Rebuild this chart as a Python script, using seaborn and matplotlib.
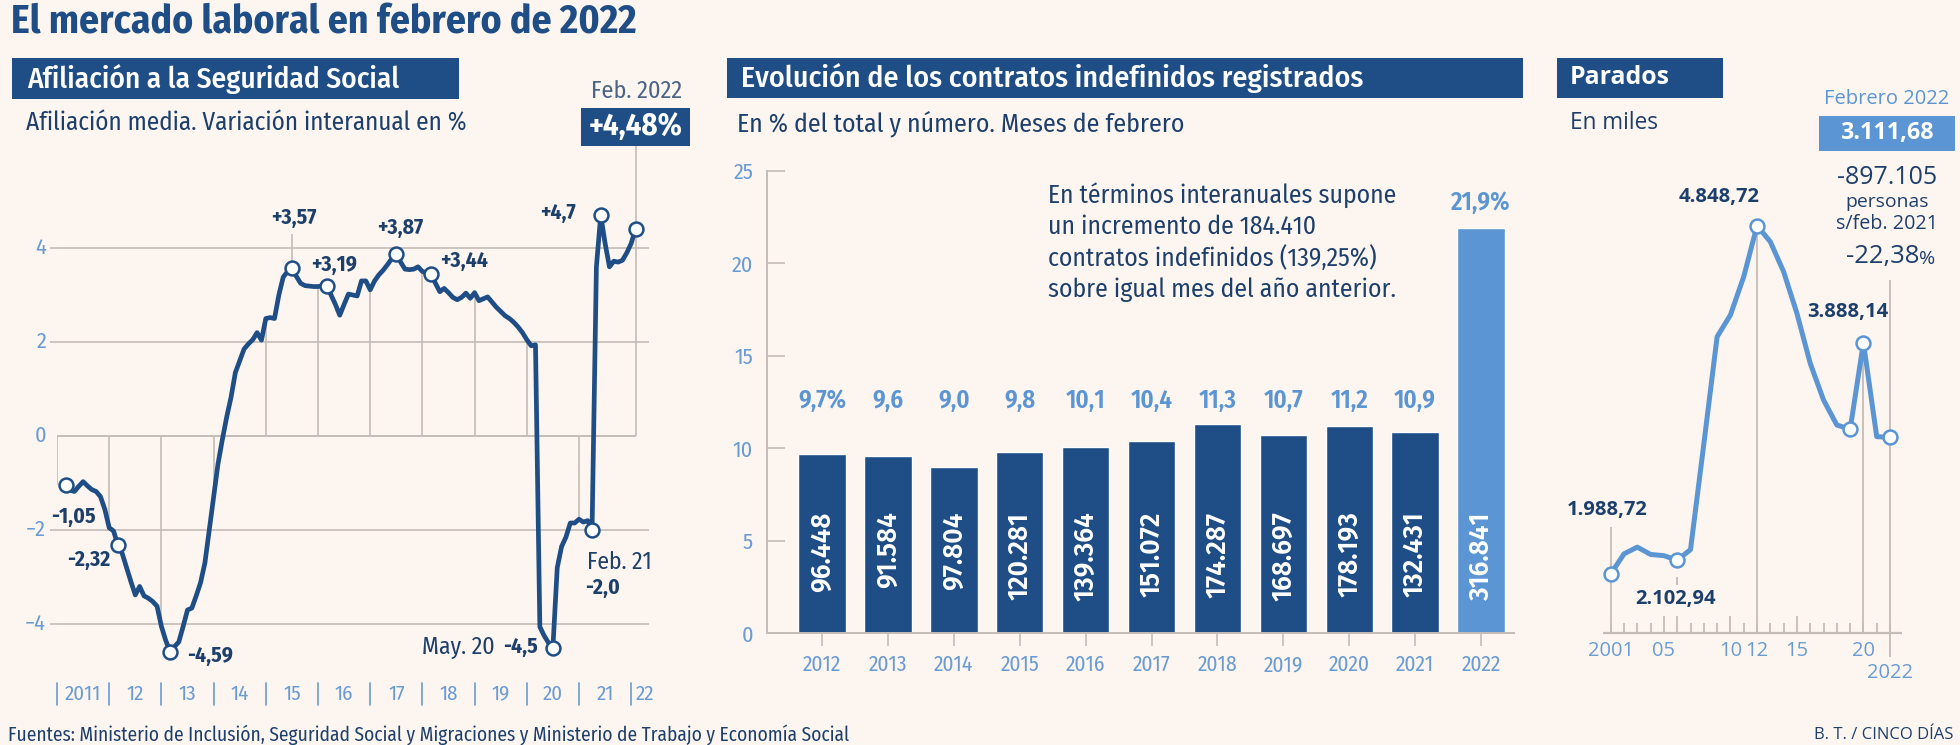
import matplotlib
matplotlib.use("Agg")
import matplotlib.pyplot as plt
from matplotlib.patches import Rectangle
from matplotlib.transforms import blended_transform_factory
import numpy as np
import seaborn as sns

W, H = 1960, 745

# colours
BG = "#fdf6f0"
DARK = "#1f4e87"
LIGHT = "#5b95d3"
TICKC = "#6a9bd3"
GRID = "#c6bcb6"
TXT = "#1d3f6c"

COND = "Fira Sans Condensed"
WIDE = "Open Sans"

# ---- Afiliación: variación interanual (%), mensual desde marzo 2011 hasta febrero 2022
afil_first_year = 2011
afil_first_month = 3
afil_values = [
    -1.05, -1.15, -1.18, -1.07, -0.97, -1.06, -1.14, -1.18, -1.29, -1.56,
    -1.95, -2.02, -2.32, -2.50, -2.80, -3.10, -3.38, -3.20, -3.40, -3.45,
    -3.52, -3.62, -4.05, -4.35, -4.59, -4.48, -4.38, -4.05, -3.70, -3.66,
    -3.40, -3.12, -2.70, -2.00, -1.30, -0.60, -0.08, 0.40, 0.82, 1.35,
    1.60, 1.85, 1.96, 2.05, 2.20, 2.04, 2.50, 2.52, 2.50, 3.00,
    3.38, 3.50, 3.57, 3.40, 3.25, 3.20, 3.19, 3.18, 3.18, 3.20,
    3.19, 3.00, 2.80, 2.57, 2.80, 3.02, 3.00, 2.98, 3.30, 3.30,
    3.11, 3.30, 3.43, 3.53, 3.65, 3.78, 3.87, 3.70, 3.55, 3.54,
    3.55, 3.60, 3.50, 3.47, 3.44, 3.25, 3.07, 3.14, 3.05, 2.95,
    2.90, 2.95, 3.04, 2.93, 3.05, 2.88, 2.92, 2.96, 2.85, 2.74,
    2.65, 2.56, 2.50, 2.42, 2.32, 2.20, 2.05, 1.92, 1.94, -4.06,
    -4.25, -4.40, -4.50, -2.80, -2.35, -2.15, -1.85, -1.85, -1.77, -1.83,
    -1.80, -2.00, 3.60, 4.70, 4.10, 3.60, 3.72, 3.70, 3.74, 3.90,
    4.10, 4.40,
]
afil_marked = [0, 12, 24, 52, 60, 76, 84, 112, 121, 123, 131]
afil_year_labels = ["2011", "12", "13", "14", "15", "16", "17", "18", "19", "20", "21", "22"]

# ---- Contratos indefinidos (febrero de cada año)
bar_years = ["2012", "2013", "2014", "2015", "2016", "2017", "2018", "2019", "2020", "2021", "2022"]
bar_pct = [9.7, 9.6, 9.0, 9.8, 10.1, 10.4, 11.3, 10.7, 11.2, 10.9, 21.9]
bar_pct_labels = ["9,7%", "9,6", "9,0", "9,8", "10,1", "10,4", "11,3", "10,7", "11,2", "10,9", "21,9%"]
bar_counts = ["96.448", "91.584", "97.804", "120.281", "139.364", "151.072",
              "174.287", "168.697", "178.193", "132.431", "316.841"]
note_lines = ["En términos interanuales supone", "un incremento de 184.410",
              "contratos indefinidos (139,25%)", "sobre igual mes del año anterior."]

# ---- Parados (miles), febrero de cada año
parados_years = list(range(2001, 2023))
parados_values = [1988.72, 2155, 2210, 2150, 2140, 2102.94, 2190, 3057, 3937, 4116, 4430,
                  4848.72, 4717, 4471, 4129, 3719, 3418, 3213, 3177, 3888.14, 3117, 3111.68]
parados_marked = [2001, 2006, 2012, 2019, 2020, 2022]
parados_tick_labels = {2001: "2001", 2005: "05", 2010: "10", 2012: "12", 2015: "15", 2020: "20"}

sns.set_theme(style="white", rc={"axes.facecolor": "none", "figure.facecolor": BG})
plt.rcParams["font.family"] = [COND, "DejaVu Sans"]

fig = plt.figure(figsize=(W / 100, H / 100), dpi=100)
fig.patch.set_facecolor(BG)
renderer = fig.canvas.get_renderer()


def px_axes(x0, y0, x1, y1):
    ax = fig.add_axes([x0 / W, 1 - y1 / H, (x1 - x0) / W, (y1 - y0) / H])
    ax.set_facecolor("none")
    for s in ax.spines.values():
        s.set_visible(False)
    return ax


def ftext(x, y, s, **kw):
    kw.setdefault("va", "center")
    kw.setdefault("color", TXT)
    return fig.text(x / W, 1 - y / H, s, **kw)


def fit_text(x, y, s, width, **kw):
    # size the text so that it spans the given width in pixels
    t = ftext(x, y, s, fontsize=20, **kw)
    t.set_fontsize(20 * width / t.get_window_extent(renderer).width)
    return t


def fbox(x0, y0, x1, y1, color):
    fig.patches.append(Rectangle((x0 / W, 1 - y1 / H), (x1 - x0) / W, (y1 - y0) / H,
                                 transform=fig.transFigure, facecolor=color,
                                 edgecolor="none", zorder=0))


# ---------------- titles, headers, footer ----------------
fit_text(11, 23, "El mercado laboral en febrero de 2022", 625, fontweight="bold", color=DARK)

fbox(12, 58, 459, 99, DARK)
fit_text(27, 79, "Afiliación a la Seguridad Social", 373, fontweight="medium", color="white")
fit_text(26, 123, "Afiliación media. Variación interanual en %", 443)

fbox(727, 58, 1523, 98, DARK)
fit_text(741, 78, "Evolución de los contratos indefinidos registrados", 623,
         fontweight="medium", color="white")
fit_text(737, 124, "En % del total y número. Meses de febrero", 447)

fbox(1557, 58, 1723, 98, DARK)
fit_text(1570, 78, "Parados", 100, fontweight="bold", color="white", family=WIDE)
fit_text(1570, 123, "En miles", 88, family=WIDE)

fit_text(8, 735, "Fuentes: Ministerio de Inclusión, Seguridad Social y Migraciones y Ministerio "
         "de Trabajo y Economía Social", 841)
fit_text(1953, 735, "B. T. / CINCO DÍAS", 140, ha="right", family=WIDE)

# ---------------- panel 1: afiliación ----------------
afil_x = afil_first_year + (afil_first_month - 1 + np.arange(len(afil_values))) / 12
afil_v = np.array(afil_values)
ax1 = px_axes(57, 150, 648.6, 680)
ax1.set_xlim(2011, 2011 + 591.6 / 52.2)
ax1.set_ylim(-5.19, 6.085)
ax1.set_xticks([])
ax1.set_yticks([])

ax1.hlines([-4, -2, 2, 4], 2011 - 7 / 52.2, ax1.get_xlim()[1], color=GRID, lw=1.2,
           zorder=1, clip_on=False)
ax1.hlines(0, 2011, afil_x[-1], color=GRID, lw=1.4, zorder=1)
for v in [4, 2, 0, -2, -4]:
    ax1.text(2011 - 11 / 52.2, v, str(v).replace("-", "−"), ha="right", va="center",
             color=TICKC, fontsize=16, clip_on=False)

for yr in range(2011, 2022):
    ax1.vlines(yr, 0, np.interp(yr, afil_x, afil_v), color=GRID, lw=1.2, zorder=1)
ax1.vlines(afil_x[-1], 0, 6.17, color=GRID, lw=1.2, zorder=1, clip_on=False)
ax1.vlines(afil_x[52], afil_v[52], 4.3, color=GRID, lw=1.2, zorder=1)

sns.lineplot(x=afil_x, y=afil_v, ax=ax1, color=DARK, lw=3.4, zorder=3)
ax1.plot(afil_x[afil_marked], afil_v[afil_marked], "o", ms=10, mfc="white", mec=DARK,
         mew=1.8, zorder=4)

lab_kw = dict(fontsize=15.5, fontweight="bold", ha="center")
ftext(73, 517, "-1,05", **lab_kw)
ftext(89, 560, "-2,32", **lab_kw)
ftext(210, 656, "-4,59", **lab_kw)
ftext(294, 218, "+3,57", **lab_kw)
ftext(334, 265, "+3,19", **lab_kw)
ftext(400, 228, "+3,87", **lab_kw)
ftext(464, 261, "+3,44", **lab_kw)
ftext(558, 213, "+4,7", **lab_kw)
ftext(538, 647, "-4,5", fontsize=15.5, fontweight="bold", ha="right")
fit_text(422, 647, "May. 20", 73)
fit_text(587, 562, "Feb. 21", 65)
ftext(585, 588, "-2,0", fontsize=15.5, fontweight="bold", ha="left")

fit_text(637, 91, "Feb. 2022", 91, ha="center", color="#4a6486")
fbox(581, 108, 690, 146, DARK)
fit_text(636, 127, "+4,48%", 94, fontweight="bold", ha="center", color="white")

tr1 = blended_transform_factory(ax1.transData, fig.transFigure)
for k, lab in enumerate(afil_year_labels):
    yr = 2011 + k
    ax1.plot([yr, yr], [1 - 683 / H, 1 - 705 / H], transform=tr1, color=TICKC, lw=1.2,
             clip_on=False)
    if k < len(afil_year_labels) - 1:
        ax1.text(yr + 0.5, 1 - 694 / H, lab, transform=tr1, ha="center", va="center",
                 color=TICKC, fontsize=15, clip_on=False)
    else:
        ax1.text(yr + 0.08, 1 - 694 / H, lab, transform=tr1, ha="left", va="center",
                 color=TICKC, fontsize=15, clip_on=False)

# ---------------- panel 2: contratos indefinidos ----------------
ax2 = px_axes(767, 171, 1514, 633.3)
sns.barplot(x=bar_years, y=bar_pct, hue=bar_years, palette=[DARK] * 10 + [LIGHT],
            legend=False, width=0.72, saturation=1, ax=ax2, zorder=2)
ax2.set_xlim(-0.835, 10.5)
ax2.set_ylim(0, 25)
for side in ["left", "bottom"]:
    ax2.spines[side].set_visible(True)
    ax2.spines[side].set_color(GRID)
    ax2.spines[side].set_linewidth(1.4)
ax2.set_yticks([0, 5, 10, 15, 20, 25])
ax2.tick_params(axis="y", left=True, direction="in", length=13, width=1.2, color=GRID,
                labelcolor=TICKC, labelsize=16, pad=10)
ax2.tick_params(axis="x", bottom=True, direction="out", length=9, width=1.2, color=GRID,
                labelcolor=TICKC, labelsize=15.5, pad=6)
ax2.set_xlabel("")
ax2.set_ylabel("")

for i, (lab, cnt) in enumerate(zip(bar_pct_labels, bar_counts)):
    y_lab = 23.3 if i == len(bar_pct_labels) - 1 else 12.6
    ax2.text(i, y_lab, lab, ha="center", va="center", color=LIGHT, fontsize=18,
             fontweight="semibold")
    ax2.text(i, 6.58, cnt, ha="center", va="top", rotation=90, color="white",
             fontsize=19, fontweight="semibold", family="Fira Sans")

for k, line in enumerate(note_lines):
    t = ftext(1048, 195 + k * 31.6, line, fontsize=20)
    if k == 0:
        note_size = 20 * 348 / t.get_window_extent(renderer).width
    t.set_fontsize(note_size)

# ---------------- panel 3: parados ----------------
ax3 = px_axes(1603, 200, 1902, 633.3)
ax3.set_xlim(2000.42, 2022.9)
ax3.set_ylim(1502.7, 5059.7)
ax3.set_xticks([])
ax3.set_yticks([])
y0 = ax3.get_ylim()[0]
ax3.hlines(y0, 2000.42, 2022.9, color=GRID, lw=1.6, clip_on=False)
for yr in parados_years:
    tall = 140 if yr in (2005, 2006, 2010, 2015) else 82
    ax3.vlines(yr, y0, y0 + tall, color=GRID, lw=1.3)

pv = dict(zip(parados_years, parados_values))
ax3.vlines(2001, y0, 2378, color=GRID, lw=1.3, zorder=1)
ax3.vlines(2006, 1900, 1967, color=GRID, lw=1.3, zorder=1)
ax3.vlines(2012, y0, pv[2012], color=GRID, lw=1.3, zorder=1)
ax3.vlines(2020, y0, pv[2020], color=GRID, lw=1.3, zorder=1)
ax3.vlines(2022, 1310, 4404, color=GRID, lw=1.3, zorder=1, clip_on=False)

sns.lineplot(x=parados_years, y=parados_values, ax=ax3, color=LIGHT, lw=3.6, zorder=3)
ax3.plot(parados_marked, [pv[y] for y in parados_marked], "o", ms=10, mfc="white",
         mec=LIGHT, mew=1.8, zorder=4)

tr3 = blended_transform_factory(ax3.transData, fig.transFigure)
for yr, lab in parados_tick_labels.items():
    ax3.text(yr, 1 - 651 / H, lab, transform=tr3, ha="center", va="center", color=TICKC,
             fontsize=14.5, family=WIDE, clip_on=False)
ax3.text(2022, 1 - 673 / H, "2022", transform=tr3, ha="center", va="center", color=TICKC,
         fontsize=14.5, family=WIDE, clip_on=False)

p_kw = dict(fontsize=14.5, fontweight="bold", ha="center", family=WIDE)
ftext(1719, 197, "4.848,72", **p_kw)
ftext(1848, 312, "3.888,14", **p_kw)
ftext(1607, 510, "1.988,72", **p_kw)
ftext(1676, 599, "2.102,94", **p_kw)

fit_text(1887, 99, "Febrero 2022", 125, ha="center", color=LIGHT, family=WIDE)
fbox(1819, 116, 1955, 151, LIGHT)
fit_text(1887, 133.5, "3.111,68", 93, fontweight="bold", ha="center", color="white",
         family=WIDE)
fit_text(1887, 177, "-897.105", 100, ha="center", family=WIDE)
fit_text(1887, 202, "personas", 83, ha="center", family=WIDE)
fit_text(1887, 224, "s/feb. 2021", 102, ha="center", family=WIDE)
ftext(1919, 257, "-22,38", fontsize=18.5, ha="right", family=WIDE)
ftext(1919, 259, "%", fontsize=14, ha="left", family=WIDE)

fig.savefig("out.png", dpi=100, facecolor=BG)
